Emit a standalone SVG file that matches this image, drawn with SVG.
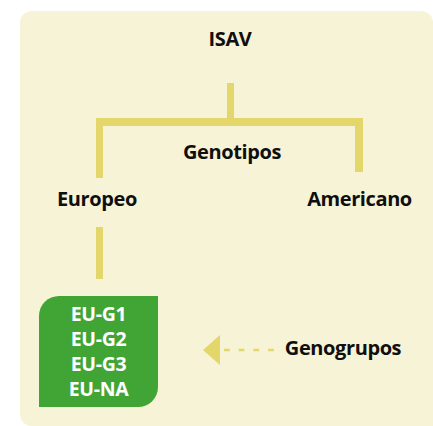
<svg xmlns="http://www.w3.org/2000/svg" width="433" height="426" viewBox="0 0 433 426">
  <style>
    .lbl { font-family: "Open Sans", "Noto Sans", sans-serif; font-weight: 700; font-size: 20px; letter-spacing: -0.4px; fill: #0f0f0f; text-anchor: middle; }
    .grp { font-family: "Open Sans", "Noto Sans", sans-serif; font-weight: 700; font-size: 19.5px; letter-spacing: -0.3px; fill: #ffffff; text-anchor: middle; }
    .bar { fill: #E3D66B; }
  </style>
  <rect width="433" height="426" fill="#ffffff"/>
  <!-- panel -->
  <path d="M32 11 H421 A12 12 0 0 1 433 23 V426 H32 A12 12 0 0 1 20 414 V23 A12 12 0 0 1 32 11 Z" fill="#F7F3D6"/>

  <g id="connectors">
    <rect class="bar" x="227" y="83" width="7" height="38"/>
    <rect class="bar" x="96" y="118" width="267" height="8"/>
    <rect class="bar" x="96" y="118" width="7" height="60"/>
    <rect class="bar" x="355" y="118" width="8" height="54"/>
    <rect class="bar" x="96" y="227" width="7" height="52"/>
    <line x1="224" y1="350" x2="276" y2="350" stroke="#E3D66B" stroke-width="2.5" stroke-dasharray="5.7 9"/>
    <polygon class="bar" points="203,350 220,335 220,365"/>
  </g>

  <g id="node-isav"><text class="lbl" x="230" y="46">ISAV</text></g>
  <g id="node-genotipos"><text class="lbl" x="232" y="159">Genotipos</text></g>
  <g id="node-europeo"><text class="lbl" x="97" y="206">Europeo</text></g>
  <g id="node-americano"><text class="lbl" x="359.5" y="206">Americano</text></g>

  <g id="node-eu-groups">
    <path d="M59 296 H158 V387 A20 20 0 0 1 138 407 H39 V316 A20 20 0 0 1 59 296 Z" fill="#41A536"/>
    <text class="grp" x="98.5" y="321">EU-G1</text>
    <text class="grp" x="98.5" y="346">EU-G2</text>
    <text class="grp" x="98.5" y="371">EU-G3</text>
    <text class="grp" x="98.5" y="396">EU-NA</text>
  </g>

  <g id="node-genogrupos"><text class="lbl" x="343" y="355">Genogrupos</text></g>
</svg>
